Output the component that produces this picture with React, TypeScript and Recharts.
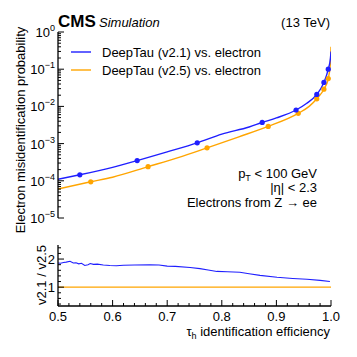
import React from "react";
import { ComposedChart, Line, Scatter, XAxis, YAxis } from "recharts";

const FONT = '"Liberation Sans", Arial, Helvetica, sans-serif';
const BLUE = "#1f1fff";
const ORANGE = "#ffa500";

// DeepTau v2.1 vs. electron: efficiency -> misid probability
const v21Eff = [0.5, 0.54, 0.6, 0.645, 0.7, 0.755, 0.8, 0.85, 0.874, 0.9, 0.936, 0.955, 0.974, 0.987, 0.995, 0.999, 1.0];
const v21Rate = [1.1e-4, 1.45e-4, 2.3e-4, 3.5e-4, 6e-4, 1.05e-3, 1.8e-3, 2.8e-3, 3.7e-3, 4.9e-3, 8e-3, 1.2e-2, 2.1e-2, 4.4e-2, 0.1, 0.2, 0.3];
const v21MarkEff = [0.54, 0.645, 0.755, 0.874, 0.936, 0.974, 0.987, 0.995];
const v21MarkRate = [1.45e-4, 3.5e-4, 1.05e-3, 3.7e-3, 8e-3, 2.1e-2, 4.4e-2, 0.1];

// DeepTau v2.5 vs. electron
const v25Eff = [0.5, 0.56, 0.6, 0.665, 0.72, 0.773, 0.83, 0.885, 0.94, 0.96, 0.974, 0.987, 0.995, 0.999, 1.0];
const v25Rate = [6e-5, 9.4e-5, 1.25e-4, 2.4e-4, 4.2e-4, 7.7e-4, 1.5e-3, 2.9e-3, 6.5e-3, 1.0e-2, 1.6e-2, 2.9e-2, 5.6e-2, 0.15, 0.4];
const v25MarkEff = [0.56, 0.665, 0.773, 0.885, 0.94, 0.974, 0.987, 0.995];
const v25MarkRate = [9.4e-5, 2.4e-4, 7.7e-4, 2.9e-3, 6.5e-3, 1.6e-2, 2.9e-2, 5.6e-2];

// ratio panel v2.1 / v2.5
const ratioEff = [0.5, 0.505, 0.51, 0.515, 0.522, 0.528, 0.533, 0.538, 0.543, 0.549, 0.555, 0.559, 0.565, 0.572, 0.583, 0.595, 0.607, 0.62, 0.64, 0.668, 0.685, 0.7, 0.715, 0.742, 0.76, 0.775, 0.791, 0.81, 0.833, 0.85, 0.87, 0.901, 0.93, 0.956, 0.98, 0.998];
const ratioVal = [1.86, 1.85, 1.88, 1.89, 1.92, 1.86, 1.87, 1.83, 1.85, 1.77, 1.8, 1.84, 1.81, 1.82, 1.79, 1.77, 1.76, 1.78, 1.79, 1.8, 1.79, 1.75, 1.74, 1.7, 1.66, 1.61, 1.56, 1.55, 1.53, 1.48, 1.42, 1.35, 1.31, 1.28, 1.24, 1.2];
const refEff = [0.5, 1.0];
const refVal = [1, 1];

const effMajor = [0.5, 0.6, 0.7, 0.8, 0.9, 1.0];
const ratioMajor = [1, 2];

const pts = (xs: number[], ys: number[]) => xs.map((x, i) => ({ x, y: ys[i] }));

// tick positions (majors + minors)
const effTicks: number[] = [];
for (let i = 0; i <= 25; i++) effTicks.push(+(0.5 + i * 0.02).toFixed(2));
const logTicks: number[] = [];
for (let d = -5; d < 0; d++) for (let k = 1; k <= 9; k++) logTicks.push(+(k * Math.pow(10, d)).toPrecision(2));
logTicks.push(1);
const ratioTicks: number[] = [];
for (let i = 2; i <= 12; i++) ratioTicks.push(+(i * 0.2).toFixed(1));

const isMajorEff = (v: number) => effMajor.some((m) => Math.abs(m - v) < 1e-6);
const isMajorLog = (v: number) => Math.abs(Math.log10(v) - Math.round(Math.log10(v))) < 1e-6;
const isMajorRatio = (v: number) => ratioMajor.some((m) => Math.abs(m - v) < 1e-6);

const MAJ = 6;
const MIN = 3;
const AX = { stroke: "#000", strokeWidth: 1.3 };

const LogLeftTick = ({ x, y, payload }: any) => {
  const major = isMajorLog(payload.value);
  const e = Math.round(Math.log10(payload.value));
  return (
    <g>
      <line x1={x} x2={x + (major ? MAJ : MIN)} y1={y} y2={y} stroke="#000" />
      {major && (
        <text x={x - 3} y={y + 5} textAnchor="end" fontSize={13} fontFamily={FONT} fill="#000">
          10
          <tspan dy={-6} fontSize={9}>{e === 0 ? "0" : "\u2212" + Math.abs(e)}</tspan>
        </text>
      )}
    </g>
  );
};

const RatioLeftTick = ({ x, y, payload }: any) => {
  const major = isMajorRatio(payload.value);
  return (
    <g>
      <line x1={x} x2={x + (major ? MAJ : MIN)} y1={y} y2={y} stroke="#000" />
      {major && (
        <text x={x - 3} y={y + 5} textAnchor="end" fontSize={13} fontFamily={FONT} fill="#000">
          {payload.value}
        </text>
      )}
    </g>
  );
};

const makeRightTick = (isMajor: (v: number) => boolean) => ({ x, y, payload }: any) => (
  <line x1={x} x2={x - (isMajor(payload.value) ? MAJ : MIN)} y1={y} y2={y} stroke="#000" />
);

const TopTick = ({ x, y, payload }: any) => (
  <line x1={x} x2={x} y1={y} y2={y + (isMajorEff(payload.value) ? MAJ : MIN)} stroke="#000" />
);

const BottomTick = ({ x, y, payload }: any) => (
  <line x1={x} x2={x} y1={y} y2={y - (isMajorEff(payload.value) ? MAJ : MIN)} stroke="#000" />
);

const BottomLabelTick = ({ x, y, payload }: any) => {
  const major = isMajorEff(payload.value);
  return (
    <g>
      <line x1={x} x2={x} y1={y} y2={y - (major ? MAJ : MIN)} stroke="#000" />
      {major && (
        <text x={x} y={y + 14.5} textAnchor="middle" fontSize={13} fontFamily={FONT} fill="#000">
          {payload.value.toFixed(1)}
        </text>
      )}
    </g>
  );
};

const Dot = (color: string) => (p: any) => <circle cx={p.cx} cy={p.cy} r={2.6} fill={color} />;

export default function App() {
  return (
    <div style={{ position: "absolute", left: 0, top: 0, width: 357, height: 357, background: "#fff" }}>
      <div style={{ position: "absolute", left: 0, top: 0 }}>
        <ComposedChart width={357} height={230} margin={{ top: 32, right: 26, left: 0, bottom: 12 }}>
          <XAxis dataKey="x" type="number" domain={[0.5, 1]} allowDataOverflow ticks={effTicks} interval={0}
            height={0} tickSize={0} tickMargin={0} tick={BottomTick} axisLine={AX} tickLine={false} />
          <XAxis xAxisId="top" orientation="top" dataKey="x" type="number" domain={[0.5, 1]} allowDataOverflow
            ticks={effTicks} interval={0} height={0} tickSize={0} tickMargin={0} tick={TopTick} axisLine={AX} tickLine={false} />
          <YAxis type="number" scale="log" domain={[1e-5, 1]} allowDataOverflow ticks={logTicks} interval={0}
            width={58} tickSize={0} tickMargin={0} tick={LogLeftTick} axisLine={AX} tickLine={false} />
          <YAxis yAxisId="right" orientation="right" type="number" scale="log" domain={[1e-5, 1]} allowDataOverflow
            ticks={logTicks} interval={0} width={0} tickSize={0} tickMargin={0} tick={makeRightTick(isMajorLog)}
            axisLine={AX} tickLine={false} />
          <Line data={pts(v25Eff, v25Rate)} dataKey="y" type="monotone" stroke={ORANGE} strokeWidth={1.4} dot={false} isAnimationActive={false} />
          <Line data={pts(v21Eff, v21Rate)} dataKey="y" type="monotone" stroke={BLUE} strokeWidth={1.4} dot={false} isAnimationActive={false} />
          <Scatter data={pts(v25MarkEff, v25MarkRate)} dataKey="y" shape={Dot(ORANGE)} isAnimationActive={false} />
          <Scatter data={pts(v21MarkEff, v21MarkRate)} dataKey="y" shape={Dot(BLUE)} isAnimationActive={false} />
        </ComposedChart>
      </div>
      <div style={{ position: "absolute", left: 0, top: 240 }}>
        <ComposedChart width={357} height={117} margin={{ top: 5, right: 26, left: 0, bottom: 21 }}>
          <XAxis dataKey="x" type="number" domain={[0.5, 1]} allowDataOverflow ticks={effTicks} interval={0}
            height={30} tickSize={0} tickMargin={0} tick={BottomLabelTick} axisLine={AX} tickLine={false} />
          <XAxis xAxisId="top" orientation="top" dataKey="x" type="number" domain={[0.5, 1]} allowDataOverflow
            ticks={effTicks} interval={0} height={0} tickSize={0} tickMargin={0} tick={TopTick} axisLine={AX} tickLine={false} />
          <YAxis type="number" domain={[0.33, 2.5]} allowDataOverflow ticks={ratioTicks} interval={0}
            width={58} tickSize={0} tickMargin={0} tick={RatioLeftTick} axisLine={AX} tickLine={false} />
          <YAxis yAxisId="right" orientation="right" type="number" domain={[0.33, 2.5]} allowDataOverflow
            ticks={ratioTicks} interval={0} width={0} tickSize={0} tickMargin={0} tick={makeRightTick(isMajorRatio)}
            axisLine={AX} tickLine={false} />
          <Line data={pts(refEff, refVal)} dataKey="y" type="linear" stroke={ORANGE} strokeWidth={1.3} dot={false} isAnimationActive={false} />
          <Line data={pts(ratioEff, ratioVal)} dataKey="y" type="linear" stroke={BLUE} strokeWidth={1.1} dot={false} isAnimationActive={false} />
        </ComposedChart>
      </div>
      <svg width={357} height={357} style={{ position: "absolute", left: 0, top: 0, pointerEvents: "none" }}
        fontFamily={FONT} fill="#000">
        <text x={58} y={27} fontSize={17} fontWeight="bold">CMS</text>
        <text x={99} y={27} fontSize={13} fontStyle="italic">Simulation</text>
        <text x={330} y={27} fontSize={13} textAnchor="end">(13 TeV)</text>

        <line x1={71} x2={91} y1={52} y2={52} stroke={BLUE} strokeWidth={1.4} />
        <text x={102} y={56.5} fontSize={13}>DeepTau (v2.1) vs. electron</text>
        <line x1={71} x2={91} y1={70} y2={70} stroke={ORANGE} strokeWidth={1.4} />
        <text x={102} y={74.5} fontSize={13}>DeepTau (v2.5) vs. electron</text>

        <text x={317} y={177.5} fontSize={13} textAnchor="end">
          p<tspan fontSize={9} dy={3}>T</tspan><tspan dy={-3}> &lt; 100 GeV</tspan>
        </text>
        <text x={317} y={192} fontSize={13} textAnchor="end">|η| &lt; 2.3</text>
        <text x={317} y={206.5} fontSize={13} textAnchor="end">Electrons from Z → ee</text>

        <text transform="translate(25,130) rotate(-90)" fontSize={13} textAnchor="middle">
          Electron misidentification probability
        </text>
        <text transform="translate(46,275) rotate(-90)" fontSize={13} textAnchor="middle">v2.1 / v2.5</text>

        <text x={330} y={336} fontSize={13} textAnchor="end">
          τ<tspan fontSize={9} dy={3}>h</tspan><tspan dy={-3}> identification efficiency</tspan>
        </text>
      </svg>
    </div>
  );
}
